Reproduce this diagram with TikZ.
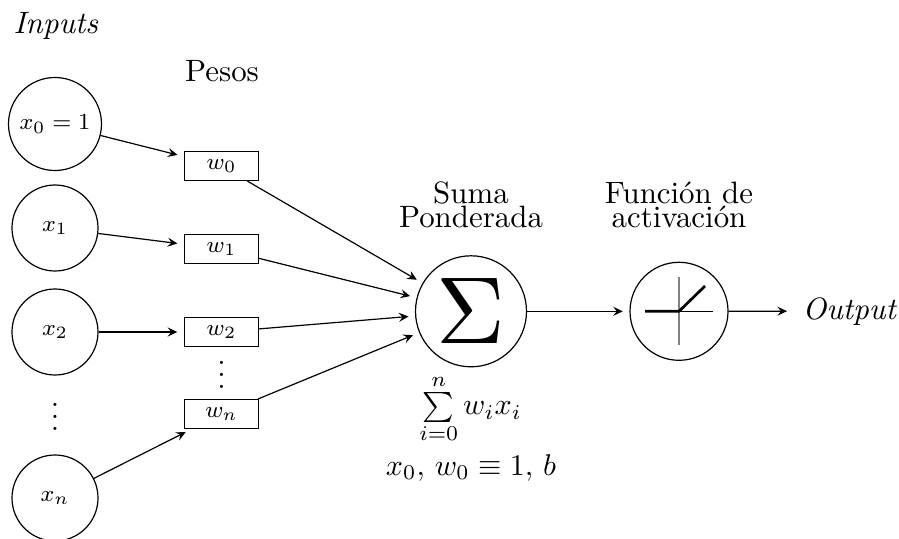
\documentclass[tikz,border=0pt]{standalone}
\usepackage{amsmath}
\usetikzlibrary{arrows.meta}
\newcommand{\bigtxt}[1]{\scalebox{1.03}{#1}}
\newcommand{\smalltxt}[1]{\scalebox{0.96}{#1}}
\tikzset{
  px/.style={x=0.33333pt,y=-0.33333pt},
  inputnode/.style={draw,circle,inner sep=0pt,minimum size=#1*0.6667pt,font=\footnotesize},
  weightbox/.style={draw,rectangle,inner sep=0pt,minimum width=24.67pt,minimum height=9.67pt,font=\footnotesize},
  opnode/.style={draw,circle,inner sep=0pt,minimum size=#1*0.6667pt},
  caption/.style={inner sep=0pt,anchor=base,align=center},
  link/.style={-{Stealth[length=3.2pt,width=3pt,inset=1.2pt]},shorten >=2.2pt},
}
\begin{document}
\begin{tikzpicture}[px]
\useasboundingbox (0,0) rectangle (899,538);
\node[caption] (inputs) at (56,34) {\bigtxt{\textit{Inputs}}};
\node[caption] (pesos) at (222,82) {\bigtxt{Pesos}};
\node[inputnode=46.5] (x0) at (55,124) {\smalltxt{$x_0=1$}};
\node[inputnode=43] (x1) at (55,228) {\smalltxt{$x_1$}};
\node[inputnode=43] (x2) at (55,332) {\smalltxt{$x_2$}};
\node[inner sep=0pt] (xdots) at (55,408) {$\vdots$};
\node[inputnode=43] (xn) at (55,498) {\smalltxt{$x_n$}};
\node[weightbox] (w0) at (221.5,166) {\smalltxt{$w_0$}};
\node[weightbox] (w1) at (221.5,249) {\smalltxt{$w_1$}};
\node[weightbox] (w2) at (221.5,332) {\smalltxt{$w_2$}};
\node[inner sep=0pt] (wdots) at (221.5,366) {$\vdots$};
\node[weightbox] (wn) at (221.5,414) {\smalltxt{$w_n$}};
\node[opnode=55.5] (sum) at (471,311.3) {\scalebox{3.17}{$\Sigma$}};
\node[opnode=49] (act) at (679,311.3) {};
\node[inner sep=0pt,anchor=base west] (out) at (802,319) {\bigtxt{\textit{Output}}};
\node[caption] (suma1) at (471,203) {\bigtxt{Suma}};
\node[caption] (suma2) at (471,227) {\bigtxt{Ponderada}};
\node[caption] (fun1) at (679,203) {\bigtxt{Función de}};
\node[caption] (fun2) at (679,227) {\bigtxt{activación}};
\node[inner sep=0pt] (formula) at (470.5,409) {$\sum\limits_{i=0}^{n} w_i x_i$};
\node[caption] (bias) at (471,475) {$x_0,\, w_0\equiv 1,\, b$};
\draw[link] (x0) -- (w0);
\draw[link] (x1) -- (w1);
\draw[link] (x2) -- (w2);
\draw[link] (xn) -- (wn);
\draw[link] (w0) -- (sum);
\draw[link] (w1) -- (sum);
\draw[link] (w2) -- (sum);
\draw[link] (wn) -- (sum);
\draw[link] (sum) -- (act);
\draw[link,shorten >=5pt] (act) -- (out);
\draw[gray] (679,277) -- (679,345);
\draw (679,311.3) -- (713,311.3);
\draw[line width=0.9pt] (645,311.3) -- (679,311.3) -- (705,286);
\end{tikzpicture}
\end{document}
